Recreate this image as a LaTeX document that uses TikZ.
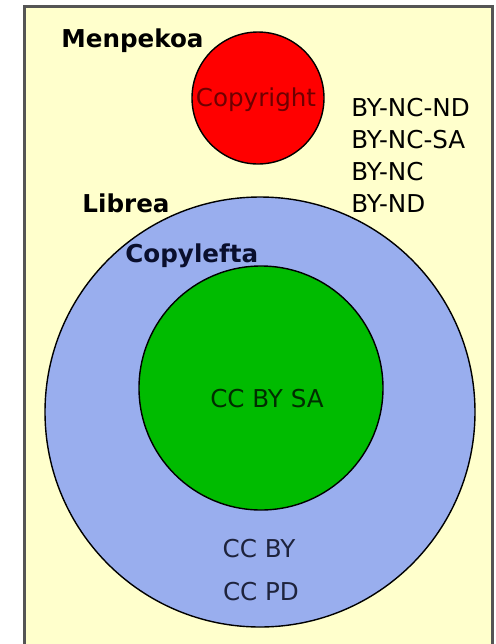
\documentclass[tikz,border=0pt]{standalone}
\usepackage{fontspec}
\setmainfont{DejaVu Sans}
\definecolor{paper}{HTML}{FFFFCC}
\definecolor{libreblue}{HTML}{99AEEE}
\definecolor{leftgreen}{HTML}{00BB00}
\definecolor{frameline}{HTML}{555555}

\begin{document}
\begin{tikzpicture}[x=0.5pt, y=-0.5pt, font=\fontsize{12.3}{14}\selectfont]
	\useasboundingbox (0,0) rectangle (495,644);
	% Background
	\begin{scope}
		\clip (0,0) rectangle (495,644);
		\draw[fill=paper, draw=frameline, line width=1.2pt] (24.5,6.5) rectangle (492.5,660);
	\end{scope}
	
	% Define circles
	\node[fill=red, circle, draw, line width=0.7pt, inner sep=0pt, minimum size=66pt] (menpekoa) at (258,98) {};     % Copyright circle
	\node[fill=libreblue, circle, draw, line width=0.7pt, inner sep=0pt, minimum size=215pt] (librea) at (260,412) {};  % Free circle
	\node[fill=leftgreen, circle, draw, line width=0.7pt, inner sep=0pt, minimum size=122pt] (copylefta) at (261,388) {}; % Copyleft circle
	
	% Labels
	\node[anchor=base west, inner sep=0pt, font=\fontsize{12.3}{14}\selectfont\bfseries] (menpekoalabel) at (61,47) {Menpekoa};
	\node[anchor=base west, inner sep=0pt, font=\fontsize{12.3}{14}\selectfont\bfseries] (librealabel) at (82,212) {Librea};
	\node[anchor=base west, inner sep=0pt, font=\fontsize{12.3}{14}\selectfont\bfseries, text={rgb,255:red,10;green,15;blue,45}] (copyleftalabel) at (125,262) {Copylefta};
	
	% Licences
	\node[anchor=base, inner sep=0pt, text={rgb,255:red,110;green,0;blue,0}] (copyright) at (256,106) {Copyright};
	\node[anchor=base west, inner sep=0pt] (bync nd) at (351,116) {BY-NC-ND};
	\node[anchor=base west, inner sep=0pt] (bync sa) at (351,148) {BY-NC-SA};
	\node[anchor=base west, inner sep=0pt] (bync) at (351,180) {BY-NC};
	\node[anchor=base west, inner sep=0pt] (bynd) at (351,212) {BY-ND};
	\node[anchor=base, inner sep=0pt, text={rgb,255:red,0;green,45;blue,0}] (ccbysa) at (267,407) {CC BY SA};
	\node[anchor=base, inner sep=0pt, text={rgb,255:red,30;green,35;blue,60}] (ccby) at (259,557) {CC BY};
	\node[anchor=base, inner sep=0pt, text={rgb,255:red,30;green,35;blue,60}] (ccpd) at (261,600) {CC PD};
\end{tikzpicture}
\end{document}
